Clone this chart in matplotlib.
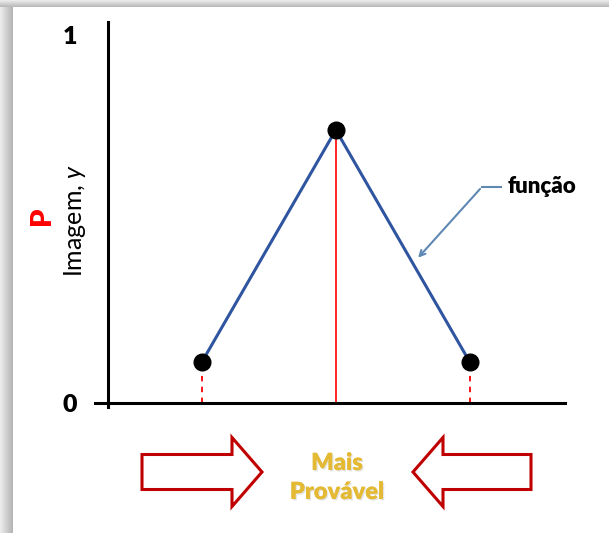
import matplotlib
matplotlib.use("Agg")
import matplotlib.pyplot as plt
import numpy as np
from matplotlib.patches import FancyArrow
import matplotlib.patheffects as pe

plt.rcParams['font.family'] = ['Lato', 'DejaVu Sans']
plt.rcParams['mathtext.fontset'] = 'custom'
plt.rcParams['mathtext.rm'] = 'Lato'
plt.rcParams['mathtext.it'] = 'Lato:italic'

# data
x_pts = [1, 2, 3]
y_pts = [0.111, 0.742, 0.111]
y_ticks = [0, 1]
tick_labels = ['0', '1']

fig = plt.figure(figsize=(6.09, 5.33), dpi=100)

# background panel with shadow (pixel coords)
bg = fig.add_axes([0, 0, 1, 1], zorder=-1)
bg.axis('off')
grad_l = np.linspace(0.93, 0.70, 50).reshape(1, -1)
bg.imshow(grad_l, cmap='gray', vmin=0, vmax=1, extent=[0, 13, 533, 0], aspect='auto')
grad_t = np.linspace(0.93, 0.72, 20).reshape(-1, 1)
bg.imshow(grad_t, cmap='gray', vmin=0, vmax=1, extent=[0, 609, 7, 0], aspect='auto')
bg.set_xlim(0, 609)
bg.set_ylim(533, 0)

# block arrows
red = '#c00000'
bg.add_patch(FancyArrow(142, 472, 120, 0, width=35, head_width=69, head_length=30,
                        length_includes_head=True, fc='white', ec=red, lw=2.2))
bg.add_patch(FancyArrow(531, 472, -118, 0, width=35, head_width=69, head_length=30,
                        length_includes_head=True, fc='white', ec=red, lw=2.2))
shadow = [pe.withSimplePatchShadow(offset=(1, -1), shadow_rgbFace='#bbbbbb', alpha=0.4), pe.Normal()]
bg.text(337, 463, 'Mais', color='#e4b934', fontsize=17, fontweight='heavy',
        ha='center', va='center', path_effects=shadow)
bg.text(337, 492, 'Provável', color='#e4b934', fontsize=17, fontweight='heavy',
        ha='center', va='center', path_effects=shadow)

# main axes
ax = fig.add_axes([108 / 609, 130 / 533, 457 / 609, 381 / 533])
ax.set_facecolor('none')
ax.set_xlim(0.30, 3.71)
ax.set_ylim(0, 1.035)
for s in ['top', 'right', 'bottom']:
    ax.spines[s].set_visible(False)
ax.spines['left'].set_linewidth(2.2)
ax.spines['left'].set_bounds(-0.011, 1.035)
ax.set_xticks([])
ax.set_yticks(y_ticks)
ax.set_yticklabels(tick_labels, fontsize=18, fontweight='heavy')
ax.tick_params(axis='y', length=0, pad=22)

ax.plot([0.20, 3.71], [0, 0], color='black', lw=2.2, clip_on=False, zorder=3)

# vertical guides
ax.vlines(x_pts[1], 0, y_pts[1], color='red', lw=1.2, zorder=2)
ax.vlines([x_pts[0], x_pts[2]], 0, [y_pts[0], y_pts[2]], color='red', lw=1.3,
          linestyles=(0, (3, 3)), zorder=2)

ax.plot(x_pts, y_pts, color='#2f55a0', lw=2.2, zorder=3)
ax.plot(x_pts, y_pts, 'o', color='black', ms=12, zorder=4)

# annotation
arrow_c = '#5f88b3'
ax.plot([3.09, 3.23], [0.587, 0.587], color=arrow_c, lw=1.5)
ax.annotate('', xy=(2.60, 0.389), xytext=(3.09, 0.587),
            arrowprops=dict(arrowstyle='->', color=arrow_c, lw=1.5))
ax.text(3.28, 0.587, 'função', fontsize=16, fontweight='heavy', va='center', ha='left')

# y labels
fig.text(75 / 609, 1 - 220 / 533, 'Imagem, $\\mathit{y}$', rotation=90, fontsize=18,
         ha='center', va='center')
fig.text(42 / 609, 1 - 216 / 533, 'P', rotation=90, fontsize=21, fontweight='heavy',
         color='red', ha='center', va='center')

fig.savefig('out.png', dpi=100)
